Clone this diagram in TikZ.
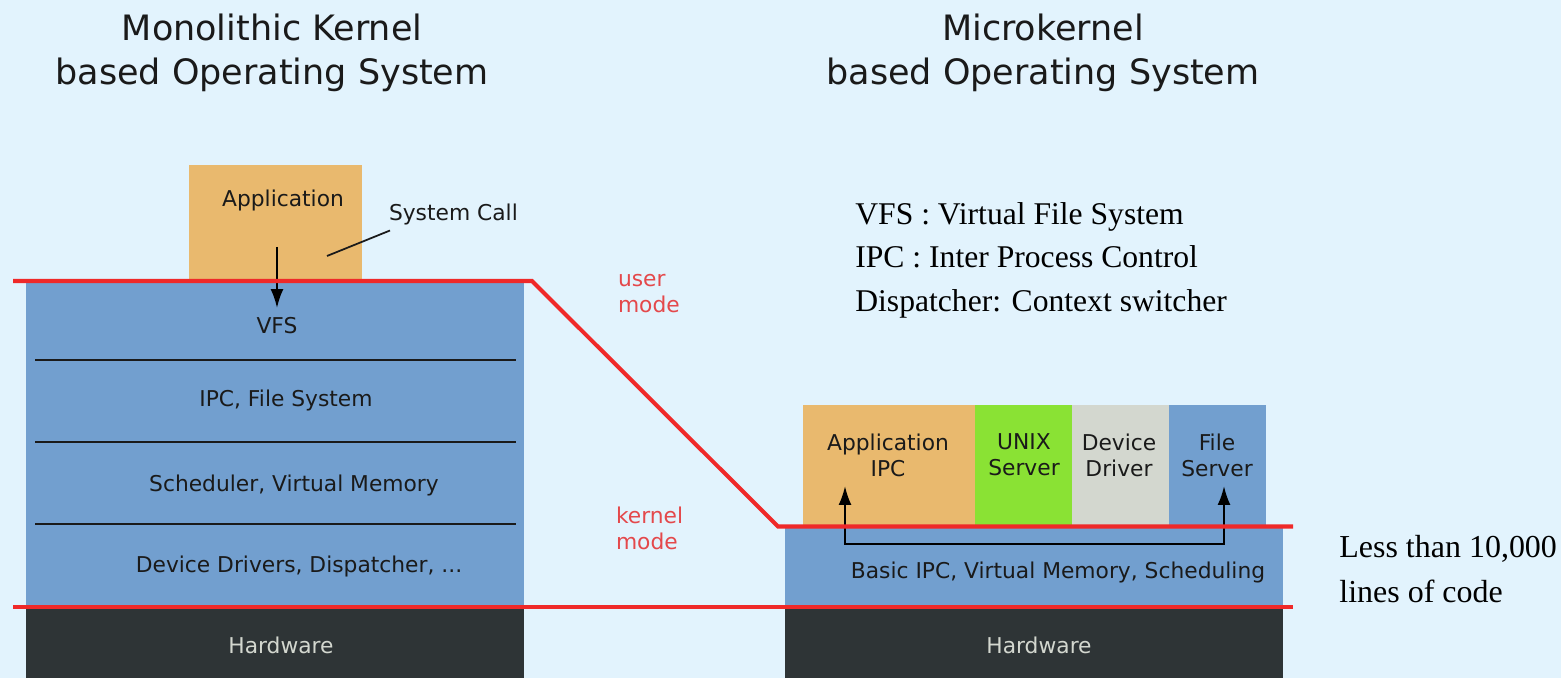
\documentclass[tikz,border=0pt]{standalone}
\usepackage{fontspec}
\setmainfont{Liberation Serif}
\setsansfont{DejaVu Sans}
\usetikzlibrary{positioning}
\usetikzlibrary{arrows.meta}
\definecolor{bgblue}{HTML}{E2F3FD}
\definecolor{layerblue}{HTML}{729FCF}
\definecolor{apporange}{HTML}{E9B96E}
\definecolor{unixgreen}{HTML}{8AE234}
\definecolor{drivergray}{HTML}{D3D7CF}
\definecolor{hwdark}{HTML}{2E3436}
\definecolor{modered}{HTML}{EF2929}
\definecolor{labelred}{HTML}{E4484B}
\definecolor{textdark}{HTML}{1A1A1A}

\begin{document}
\begin{tikzpicture}[x=0.02cm, y=-0.02cm,
    layer/.style={inner sep=0pt, outer sep=0pt, align=center, text=textdark,
        font=\sffamily\fontsize{12.4}{14.8}\selectfont},
    hwbox/.style={layer, fill=hwdark, minimum width=9.96cm, minimum height=1.42cm},
    hwlabel/.style={layer, text=drivergray},
    sepline/.style={line width=1pt, textdark, shorten <=0.18cm, shorten >=0.16cm},
    boundary/.style={line width=2.3pt, modered},
    callarrow/.style={line width=1.2pt, black, -{Latex[length=0.38cm, width=0.26cm]}},
    modelabel/.style={layer, anchor=west, align=left, text=labelred},
    title/.style={layer, font=\sffamily\fontsize{19.9}{25}\selectfont},
    legend/.style={anchor=west, align=left, inner sep=0pt, text=black}]
    % Background
    \fill[bgblue] (0,0) rectangle (1561,678);
    \useasboundingbox (0,0) rectangle (1561,678);

    % Titles
    \node[title] (monotitle) at (272,53) {Monolithic Kernel\\based Operating System};
    \node[title] (microtitle) at (1043,53) {Microkernel\\based Operating System};

    % Monolithic kernel layers
    \node[layer, fill=apporange, minimum width=3.46cm, minimum height=2.32cm] (app) at (275.5,223) {};
    \node[layer, fill=layerblue, minimum width=9.96cm, minimum height=1.58cm] (vfs) at (275,320.5) {};
    \node[layer, fill=layerblue, minimum width=9.96cm, minimum height=1.64cm] (ipcfs) at (275,401) {};
    \node[layer, fill=layerblue, minimum width=9.96cm, minimum height=1.64cm] (sched) at (275,483) {};
    \node[layer, fill=layerblue, minimum width=9.96cm, minimum height=1.66cm] (drivers) at (275,565.5) {};
    \node[hwbox] (hwleft) at (275,642.5) {};
    \draw[sepline] (vfs.south west) -- (vfs.south east);
    \draw[sepline] (ipcfs.south west) -- (ipcfs.south east);
    \draw[sepline] (sched.south west) -- (sched.south east);
    \node[layer] (applabel) at (283,200) {Application};
    \node[layer] (vfslabel) at (277,326) {VFS};
    \node[layer] (ipcfslabel) at (286,400) {IPC, File System};
    \node[layer] (schedlabel) at (294,485) {Scheduler, Virtual Memory};
    \node[layer] (driverslabel) at (299,566) {Device Drivers, Dispatcher, ...};
    \node[hwlabel] (hwleftlabel) at (281,645) {Hardware};

    % System call
    \coordinate (callstart) at (277,247);
    \coordinate (callend) at (277,308);
    \draw[callarrow] (callstart) -- (callend);
    \node[layer, anchor=west] (syscall) at (389,214) {System Call};
    \coordinate (callpoint) at (327,256);
    \draw[line width=1pt, textdark] (callpoint) -- ([xshift=0.02cm, yshift=-0.33cm]syscall.west);

    % Microkernel layers
    \node[layer, fill=apporange, minimum width=3.44cm, minimum height=2.4cm] (appipc) at (889,465) {};
    \node[layer, fill=unixgreen, minimum width=1.94cm, minimum height=2.4cm] (unix) at (1023.5,465) {};
    \node[layer, fill=drivergray, minimum width=1.94cm, minimum height=2.4cm] (devdrv) at (1120.5,465) {};
    \node[layer, fill=layerblue, minimum width=1.94cm, minimum height=2.4cm] (filesrv) at (1217.5,465) {};
    \node[layer] (appipclabel) at (888,455) {Application\\IPC};
    \node[layer] (unixlabel) at (1024,455) {UNIX\\Server};
    \node[layer] (devdrvlabel) at (1119,455) {Device\\Driver};
    \node[layer] (filesrvlabel) at (1217,455) {File\\Server};
    \node[layer, fill=layerblue, minimum width=9.96cm, minimum height=1.6cm] (basic) at (1034,567) {};
    \node[layer] (basiclabel) at (1058,572) {Basic IPC, Virtual Memory, Scheduling};
    \node[hwbox] (hwright) at (1034,642.5) {};
    \node[hwlabel] (hwrightlabel) at (1039,645) {Hardware};

    % IPC path
    \coordinate (ipcfrom) at (845,486);
    \coordinate (ipcto) at (1224,486);
    \draw[callarrow, {Latex[length=0.38cm, width=0.26cm]}-{Latex[length=0.38cm, width=0.26cm]}] (ipcfrom) -- ++(0,58) -| (ipcto);

    % Mode boundaries
    \draw[boundary] (13,281) -- (532,281) -- (778,526.5) -- (1293,526.5);
    \draw[boundary] (13,607) -- (1293,607);
    \node[modelabel] (usermode) at (618,293.5) {user\\mode};
    \node[modelabel] (kernelmode) at (616,528.5) {kernel\\mode};

    % Legend
    \node[legend, font=\fontsize{18}{24.75}\selectfont] (abbrev) at (855,260) {VFS : Virtual File System\\IPC : Inter Process Control\\Dispatcher: Context switcher};
    \node[legend, font=\fontsize{18.2}{26}\selectfont] (loc) at (1339,569) {Less than 10,000\\lines of code};
\end{tikzpicture}
\end{document}
